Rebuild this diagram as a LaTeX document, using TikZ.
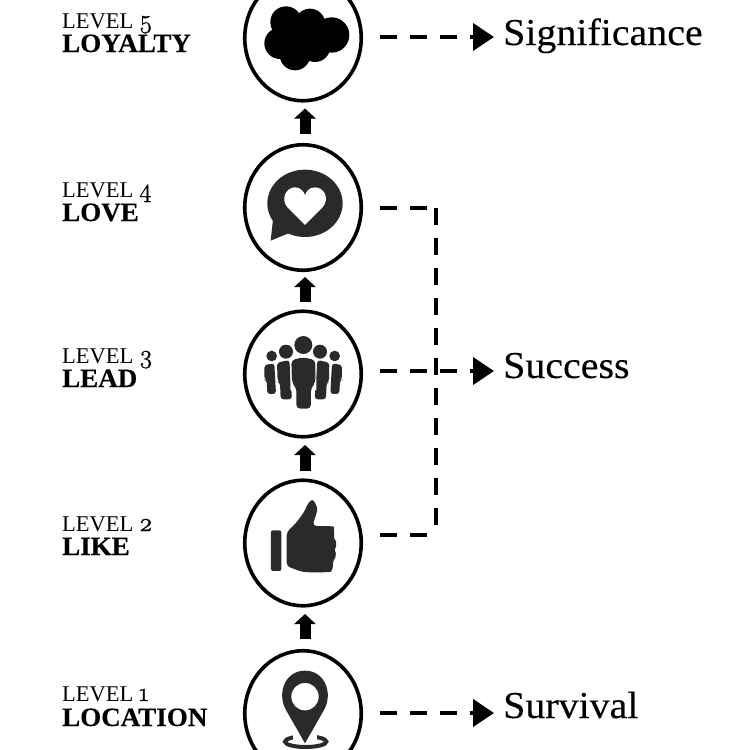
\documentclass[tikz,border=0pt]{standalone}
\usepackage{fontspec}
\setmainfont{Liberation Serif}
\newfontfamily\oldnum[Numbers=OldStyle,FakeBold=1.2]{Latin Modern Roman}
\newfontfamily\goalfont[FakeStretch=1.05,FakeBold=0.25]{Liberation Serif}
\newfontfamily\boldlab[FakeStretch=1.02,FakeBold=0.3]{Liberation Serif Bold}
\usetikzlibrary{arrows.meta,shapes.geometric}
\definecolor{ink}{HTML}{2A2A2A}
\tikzset{
  ring/.style={draw=black,line width=3.6pt,ellipse,minimum width=116.5pt,minimum height=125.5pt,inner sep=0pt,fill=white},
  uparrow/.style={line width=11pt,-{Triangle[length=10pt,width=21pt]},black},
  dashline/.style={line width=4.2pt,dash pattern=on 17pt off 13pt,black},
  dasharrow/.style={dashline,-{Triangle[length=21pt,width=27pt,sep=0pt]}},
  lvl/.style={anchor=base west,inner sep=0pt,font=\fontsize{22.5}{24}\selectfont},
  lvb/.style={anchor=base west,inner sep=0pt,font=\fontsize{26.5}{28}\selectfont\boldlab},
  goal/.style={anchor=base west,inner sep=0pt,font=\fontsize{38}{40}\selectfont\goalfont}
}
\newcommand{\dig}[1]{{\oldnum\fontsize{26}{26}\selectfont #1}}
\begin{document}
\begin{tikzpicture}[x=1pt,y=-1pt]
\useasboundingbox[fill=white] (0,0) rectangle (750,750);
% rings
\node[ring] (c5) at (303,38) {};
\node[ring] (c4) at (303,207.5) {};
\node[ring] (c3) at (303,374) {};
\node[ring] (c2) at (303,543) {};
\node[ring] (c1) at (303,713.5) {};
% cloud
\begin{scope}[shift={(230,0)},scale=0.3333]
\fill[black] (168,66) circle (47) (240,72) circle (46) (305,105) circle (53) (150,130) circle (47) (195,165) circle (46) (255,140) circle (46) (220,110) circle (70);
\end{scope}
% speech bubble
\begin{scope}[shift={(230,130)},scale=0.3333]
\fill[ink] (225,220) ellipse (113 and 101);
\fill[ink] (130,260) -- (122,332) -- (180,308) -- cycle;
\fill[white] (225,285) -- (172,232) .. controls (150,205) and (170,172) .. (195,172) .. controls (210,172) and (220,182) .. (225,195) .. controls (230,182) and (240,172) .. (255,172) .. controls (282,172) and (300,205) .. (278,232) -- cycle;
\end{scope}
% people
\begin{scope}[shift={(230,300)},scale=0.3333]
\fill[ink] (220,135) circle (27) (168,155) circle (21) (270,155) circle (21) (125,168) circle (16) (314,168) circle (16);
\fill[ink,rounded corners=3] (103,195) -- (133,190) -- (138,282) -- (112,282) -- (110,240) -- (103,238) -- cycle;
\fill[ink,rounded corners=3] (336,195) -- (306,190) -- (301,282) -- (328,282) -- (330,240) -- (336,238) -- cycle;
\fill[ink,rounded corners=3] (141,188) -- (178,180) -- (186,298) -- (152,298) -- (150,248) -- (143,245) -- cycle;
\fill[ink,rounded corners=3] (298,188) -- (262,180) -- (254,298) -- (288,298) -- (290,248) -- (297,245) -- cycle;
\fill[white] (181,180) rectangle (187,270) (253,180) rectangle (259,270);
\fill[ink,rounded corners=4] (184,180) -- (220,172) -- (256,180) -- (256,250) -- (243,262) -- (243,326) -- (199,326) -- (199,262) -- (186,250) -- cycle;
\end{scope}
% thumb
\begin{scope}[shift={(230,470)},scale=0.3333]
\fill[ink,rounded corners=2] (123,181) rectangle (154,303);
\fill[ink,rounded corners=4] (170,185) .. controls (200,160) and (225,125) .. (235,95) .. controls (250,88) and (265,110) .. (258,135) -- (247,168) -- (300,168) .. controls (312,170) and (312,195) .. (308,205) .. controls (320,215) and (318,230) .. (310,240) .. controls (318,250) and (316,262) .. (308,270) .. controls (310,290) and (305,305) .. (290,307) -- (235,307) .. controls (210,305) and (190,295) .. (170,290) -- cycle;
\end{scope}
% pin
\begin{scope}[shift={(230,610)},scale=0.3333]
\draw[ink,line width=4pt] (227,395) ellipse (62 and 16);
\fill[white] (190,370) rectangle (262,398);
\fill[ink] (225,400) -- (168,300) .. controls (140,250) and (165,182) .. (225,182) .. controls (285,182) and (310,250) .. (282,300) -- cycle;
\fill[white] (225,260) circle (41);
\end{scope}
% up arrows
\coordinate (u1s) at (305,639); \coordinate (u1e) at (305,614);
\coordinate (u2s) at (305,471); \coordinate (u2e) at (305,445);
\coordinate (u3s) at (305,302); \coordinate (u3e) at (305,277);
\coordinate (u4s) at (305,133.5); \coordinate (u4e) at (305,108.5);
\draw[uparrow] (u1s) -- (u1e);
\draw[uparrow] (u2s) -- (u2e);
\draw[uparrow] (u3s) -- (u3e);
\draw[uparrow] (u4s) -- (u4e);
% goals
\node[goal] (sig) at (503,45) {Significance};
\node[goal] (suc) at (503,378) {Success};
\node[goal] (sur) at (503,718) {Survival};
% dashed
\coordinate (d5) at (380,37); \coordinate (t5) at (494,37);
\coordinate (d4) at (380,208); \coordinate (k4) at (436,208);
\coordinate (d3) at (380,371); \coordinate (t3) at (494,371);
\coordinate (d2) at (380,535); \coordinate (k2) at (436,535);
\coordinate (v2) at (436,526);
\coordinate (d1) at (380,713); \coordinate (t1) at (494,713);
\draw[dasharrow] (d5) -- (t5);
\draw[dasharrow] (d3) -- (t3);
\draw[dasharrow] (d1) -- (t1);
\draw[dashline] (d4) -- (k4);
\draw[dashline] (k4) -- (v2);
\draw[dashline] (d2) -- (k2);
% labels
\node[lvl] (l5) at (62,28) {LEVEL \dig{5}};
\node[lvb] (n5) at (62,52) {LOYALTY};
\node[lvl] (l4) at (62,197) {LEVEL \dig{4}};
\node[lvb] (n4) at (62,221) {LOVE};
\node[lvl] (l3) at (62,363) {LEVEL \dig{3}};
\node[lvb] (n3) at (62,387) {LEAD};
\node[lvl] (l2) at (62,531) {LEVEL \dig{2}};
\node[lvb] (n2) at (62,555) {LIKE};
\node[lvl] (l1) at (62,701) {LEVEL \dig{1}};
\node[lvb] (n1) at (62,726) {LOCATION};
\end{tikzpicture}
\end{document}
